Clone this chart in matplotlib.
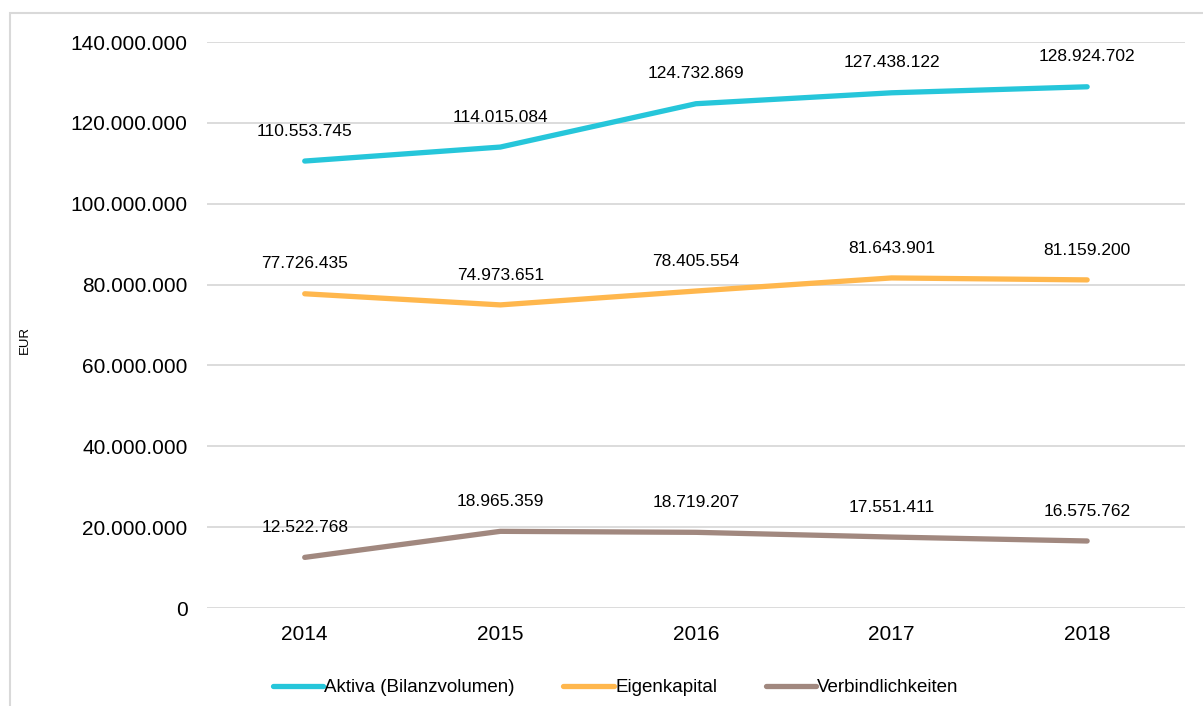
import matplotlib.pyplot as plt
from matplotlib.ticker import FuncFormatter
from matplotlib.patches import Rectangle

plt.rcParams['font.family'] = ['Liberation Sans', 'DejaVu Sans']

years = ["2014", "2015", "2016", "2017", "2018"]
aktiva = [110553745, 114015084, 124732869, 127438122, 128924702]
eigenkapital = [77726435, 74973651, 78405554, 81643901, 81159200]
verbindlichkeiten = [12522768, 18965359, 18719207, 17551411, 16575762]

series = [
    ("Aktiva (Bilanzvolumen)", aktiva, "#26C6DA"),
    ("Eigenkapital", eigenkapital, "#FFB74D"),
    ("Verbindlichkeiten", verbindlichkeiten, "#A1887F"),
]


def de_format(v, pos=None):
    return f"{int(round(v)):,}".replace(",", ".")


fig = plt.figure(figsize=(12.03, 7.06), dpi=100)
ax = fig.add_axes([0.172, 0.1388, 0.813, 0.8017])

x = range(len(years))
for label, values, color in series:
    ax.plot(x, values, color=color, linewidth=3.8, solid_capstyle='round', label=label)
    for xi, v in zip(x, values):
        ax.annotate(de_format(v), (xi, v), xytext=(0, 21.5), textcoords='offset points',
                    ha='center', va='center', fontsize=12.5, color='#000000')

ax.set_xlim(-0.5, 4.5)
ax.set_ylim(0, 140000000)
ax.set_yticks(range(0, 140000001, 20000000))
ax.yaxis.set_major_formatter(FuncFormatter(de_format))
ax.set_xticks(list(x))
ax.set_xticklabels(years)
ax.tick_params(axis='both', length=0, labelsize=15)
ax.tick_params(axis='x', pad=12)
ax.tick_params(axis='y', pad=14)
ax.grid(axis='y', color='#D9D9D9', linewidth=1.3)
ax.set_axisbelow(True)
for s in ax.spines.values():
    s.set_visible(False)

fig.text(0.021, 0.518, "EUR", rotation=90, fontsize=9.5, ha='center', va='center')

ax.legend(loc='center', bbox_to_anchor=(0.418, -0.141), ncol=3, frameon=False,
          fontsize=13.5, handlelength=2.7, handletextpad=0.05, columnspacing=2.6)

fig.patches.append(Rectangle((0.0085, -0.01), 0.995, 0.992, transform=fig.transFigure,
                             fill=False, edgecolor='#D9D9D9', linewidth=1.5))

fig.savefig("out.png", dpi=100)
